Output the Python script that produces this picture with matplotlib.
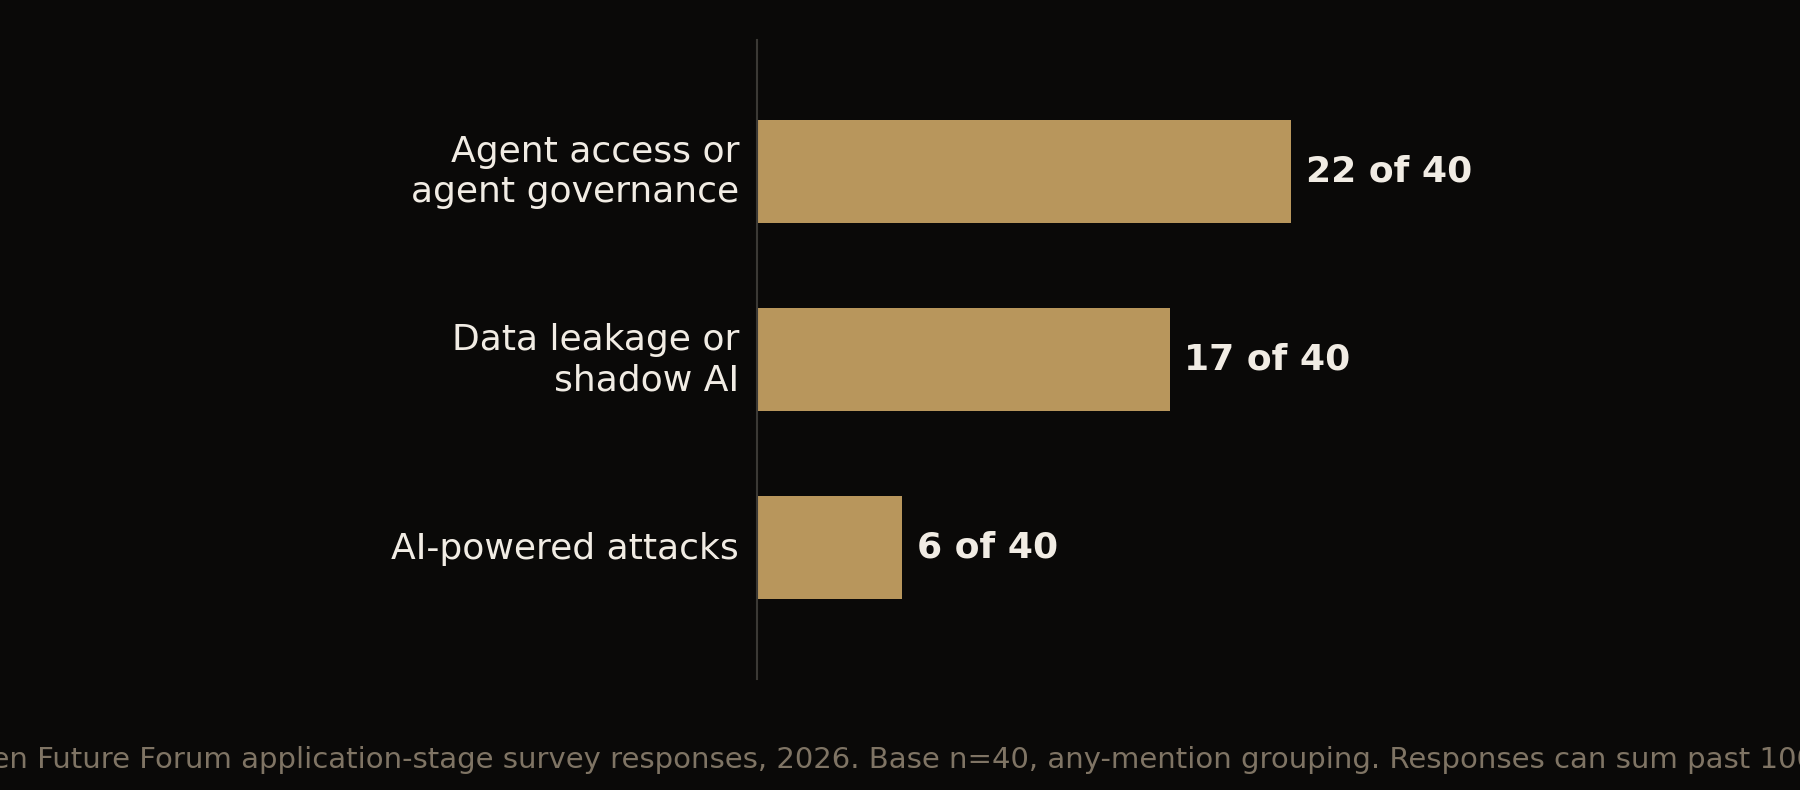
"""
Horizontal bar chart: survey risk themes (any-mention grouping, n=40).
"""

import matplotlib.pyplot as plt
import matplotlib.transforms as mtransforms

# ==============================
# DATA
# ==============================
CATEGORIES = ["Agent access or\nagent governance", "Data leakage or\nshadow AI", "AI-powered attacks"]
COUNTS = [22, 17, 6]
BASE_N = 40
FOOTNOTE = ("Source: Open Future Forum application-stage survey responses, 2026. "
            "Base n=40, any-mention grouping. Responses can sum past 100%.")

# ==============================
# STYLE
# ==============================
BG_COLOR = "#0a0908"
BAR_COLOR = "#b8965c"
TEXT_COLOR = "#f1ece4"
NOTE_COLOR = "#7f7464"
SPINE_COLOR = "#3b3935"


def plot_chart(output_file):
    fig = plt.figure(figsize=(18, 7.9), dpi=100, facecolor=BG_COLOR)
    ax = fig.add_axes([0.4203, 0.1405, 0.54, 0.809])
    ax.set_facecolor(BG_COLOR)

    positions = list(range(len(CATEGORIES)))
    ax.barh(positions, COUNTS, height=0.55, color=BAR_COLOR)

    ax.set_xlim(0, BASE_N)
    ax.set_ylim(len(CATEGORIES) - 0.3, -0.7)

    ax.set_yticks(positions)
    ax.set_yticklabels(CATEGORIES, fontsize=26, color=TEXT_COLOR, linespacing=1.21)
    ax.tick_params(axis="y", length=0, pad=12.5)
    ax.set_xticks([])

    # nudge tick labels up a little (two-line labels a bit more)
    for label in ax.get_yticklabels():
        lift = 4 if "\n" in label.get_text() else 1.5
        shift = mtransforms.ScaledTranslation(0, lift / 72, fig.dpi_scale_trans)
        label.set_transform(label.get_transform() + shift)

    for side in ["top", "right", "bottom"]:
        ax.spines[side].set_visible(False)
    ax.spines["left"].set_color(SPINE_COLOR)
    ax.spines["left"].set_linewidth(1.5)

    for pos, count in zip(positions, COUNTS):
        ax.text(count + 0.6, pos, f"{count} of {BASE_N}", va="center", ha="left",
                fontsize=26, fontweight="bold", color=TEXT_COLOR)

    fig.text(1.029, 0.038, FOOTNOTE, ha="right", va="center",
             fontsize=21, color=NOTE_COLOR)

    fig.savefig(output_file, dpi=100, facecolor=BG_COLOR)


if __name__ == "__main__":
    plot_chart("out.png")
